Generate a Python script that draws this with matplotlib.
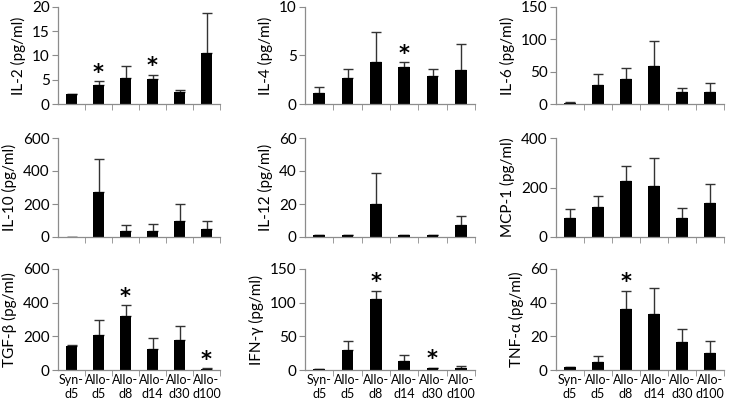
import matplotlib
matplotlib.use("Agg")
import matplotlib.pyplot as plt
import numpy as np

plt.rcParams['font.family'] = ['Lato', 'DejaVu Sans']

categories = ["Syn-\nd5", "Allo-\nd5", "Allo-\nd8", "Allo-\nd14", "Allo-\nd30", "Allo-\nd100"]

il2 = [2.0, 4.0, 5.3, 5.2, 2.4, 10.5]
il2_err = [0.1, 0.7, 2.6, 0.8, 0.5, 8.3]
il2_star = [1, 3]

il4 = [1.1, 2.7, 4.3, 3.8, 2.9, 3.5]
il4_err = [0.7, 0.9, 3.1, 0.5, 0.7, 2.7]
il4_star = [3]

il6 = [2, 29, 38, 58, 18, 18]
il6_err = [0.5, 17, 18, 40, 7, 14]
il6_star = []

il10 = [3, 270, 35, 35, 100, 50]
il10_err = [0, 205, 35, 42, 100, 48]
il10_star = []

il12 = [1.2, 1.2, 20, 1.2, 1.3, 7]
il12_err = [0.2, 0.2, 19, 0.2, 0.2, 6]
il12_star = []

mcp1 = [75, 122, 225, 208, 75, 138]
mcp1_err = [40, 42, 60, 112, 42, 75]
mcp1_star = []

tgfb = [142, 208, 322, 125, 178, 4]
tgfb_err = [4, 88, 62, 68, 82, 5]
tgfb_star = [2, 5]

ifng = [1.5, 30, 105, 13, 2.5, 2.5]
ifng_err = [0.5, 13, 13, 9, 1, 3]
ifng_star = [2, 4]

tnfa = [1.5, 5, 36, 33, 16.5, 10]
tnfa_err = [0.5, 3.5, 11, 16, 8, 7.5]
tnfa_star = [2]

panels = [
    ("IL-2 (pg/ml)", il2, il2_err, il2_star, [0, 5, 10, 15, 20]),
    ("IL-4 (pg/ml)", il4, il4_err, il4_star, [0, 5, 10]),
    ("IL-6 (pg/ml)", il6, il6_err, il6_star, [0, 50, 100, 150]),
    ("IL-10 (pg/ml)", il10, il10_err, il10_star, [0, 200, 400, 600]),
    ("IL-12 (pg/ml)", il12, il12_err, il12_star, [0, 20, 40, 60]),
    ("MCP-1 (pg/ml)", mcp1, mcp1_err, mcp1_star, [0, 200, 400]),
    ("TGF-β (pg/ml)", tgfb, tgfb_err, tgfb_star, [0, 200, 400, 600]),
    ("IFN-γ (pg/ml)", ifng, ifng_err, ifng_star, [0, 50, 100, 150]),
    ("TNF-α (pg/ml)", tnfa, tnfa_err, tnfa_star, [0, 20, 40, 60]),
]

W, H = 730, 400
fig = plt.figure(figsize=(W / 100, H / 100), dpi=100)

col_x = [(58, 220), (305, 475), (556, 724)]
row_y = [(7, 104), (138, 237), (269, 370)]

axis_col = "#8c8c8c"
for i, (label, vals, errs, stars, yticks) in enumerate(panels):
    r, c = divmod(i, 3)
    x0, x1 = col_x[c]
    y0, y1 = row_y[r]
    ax = fig.add_axes([x0 / W, 1 - y1 / H, (x1 - x0) / W, (y1 - y0) / H])
    x = np.arange(len(categories))
    ax.bar(x, vals, width=0.42, color="black", zorder=2)
    ax.errorbar(x, vals, yerr=[np.zeros(len(vals)), errs], fmt="none",
                ecolor="#333333", elinewidth=1.0, capsize=3.5, capthick=1.0, zorder=1)
    for s in stars:
        ax.annotate("*", (x[s], vals[s] + errs[s]), xytext=(0, -1),
                    textcoords="offset points", ha="center", va="bottom",
                    fontsize=15, fontweight="bold", color="black",
                    family=["DejaVu Sans"])
    ax.set_xlim(-0.5, len(categories) - 0.5)
    ax.set_ylim(yticks[0], yticks[-1])
    ax.set_yticks(yticks)
    ax.set_yticklabels([str(t) for t in yticks], fontsize=11)
    ax.set_xticks(x)
    if r == 2:
        ax.set_xticklabels(categories, fontsize=9, linespacing=1.15)
    else:
        ax.set_xticklabels([])
    ax.tick_params(axis="x", which="major", length=0, pad=3)
    ax.set_xticks(np.arange(0.5, len(categories), 1.0), minor=True)
    ax.tick_params(axis="x", which="minor", length=4, color=axis_col, direction="out")
    ax.tick_params(axis="y", length=4, color=axis_col, direction="out", pad=2)
    for sp in ["top", "right"]:
        ax.spines[sp].set_visible(False)
    for sp in ["left", "bottom"]:
        ax.spines[sp].set_color(axis_col)
        ax.spines[sp].set_linewidth(0.9)
    ax.set_ylabel(label, fontsize=11, labelpad=4)

fig.savefig("out.png", dpi=100)
